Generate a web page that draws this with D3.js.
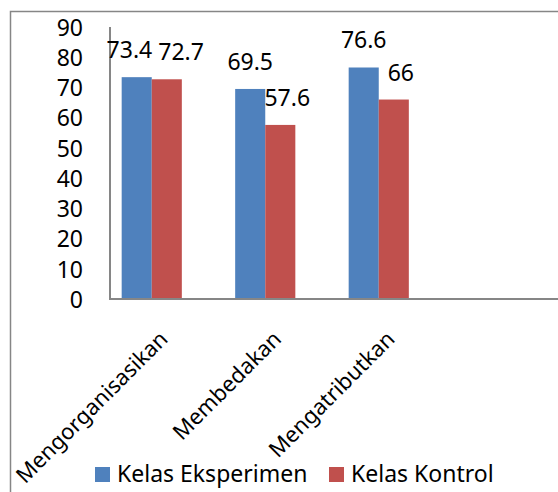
<!DOCTYPE html>
<html>
<head>
<meta charset="utf-8">
<script src="https://cdn.jsdelivr.net/npm/d3@7"></script>
<style>
  html, body { margin: 0; padding: 0; background: #fff; }
  svg { display: block; font-family: "Noto Sans", "Open Sans", sans-serif; }
</style>
</head>
<body>
<svg id="chart" width="558" height="492"></svg>
<script>
const categories = ["Mengorganisasikan", "Membedakan", "Mengatributkan"];
const seriesNames = ["Kelas Eksperimen", "Kelas Kontrol"];
const eksperimen = [73.4, 69.5, 76.6];
const kontrol = [72.7, 57.6, 66];
const yTicks = [0, 10, 20, 30, 40, 50, 60, 70, 80, 90];
const colors = ["#4F81BD", "#C0504D"];

const svg = d3.select("#chart");
const W = 558, H = 492;
const fontSize = 23;
const catFontSize = 22;
const axisColor = "#868686";

// outer frame
svg.append("path")
  .attr("d", `M10.5,${H + 5} V11.5 H${W + 5}`)
  .attr("fill", "none").attr("stroke", axisColor).attr("stroke-width", 1.5);

const plotLeft = 110, plotBottom = 299, plotTop = 27, plotRight = W;

const y = d3.scaleLinear().domain([0, 90]).range([plotBottom, plotTop]);
const x = d3.scaleBand().domain(categories).range([95, 435.5])
  .paddingInner(0.47).paddingOuter(0.235);
const xs = d3.scaleBand().domain(seriesNames).range([0, x.bandwidth()]);

const series = [eksperimen, kontrol];
const data = [];
categories.forEach((c, i) => {
  seriesNames.forEach((s, j) => data.push({ c, s, j, v: series[j][i] }));
});

// bars
svg.append("g").selectAll("rect").data(data).join("rect")
  .attr("x", d => x(d.c) + xs(d.s))
  .attr("y", d => y(d.v))
  .attr("width", xs.bandwidth())
  .attr("height", d => y(0) - y(d.v))
  .attr("fill", d => colors[d.j]);

// y axis
const yAxis = d3.axisLeft(y).tickValues(yTicks).tickSize(0).tickPadding(27);
const gy = svg.append("g").attr("transform", `translate(${plotLeft},0)`).call(yAxis);
gy.select(".domain").attr("stroke", axisColor).attr("stroke-width", 2)
  .attr("d", `M0,${plotTop}V${plotBottom}`);
gy.selectAll("text").attr("font-size", fontSize).attr("fill", "#000")
  .attr("font-family", "'Noto Sans', sans-serif").attr("dy", "0.36em");

// x axis line
svg.append("line")
  .attr("x1", plotLeft - 1).attr("x2", plotRight)
  .attr("y1", plotBottom).attr("y2", plotBottom)
  .attr("stroke", axisColor).attr("stroke-width", 2);

// category labels
svg.append("g").selectAll("text").data(categories).join("text")
  .attr("transform", d => `translate(${x(d) + x.bandwidth() / 2 + 12},335) rotate(-45)`)
  .attr("text-anchor", "end").attr("dy", "0.35em")
  .attr("font-size", catFontSize).attr("fill", "#000")
  .text(d => d);

// data labels with simple collision avoidance within each group
const labelG = svg.append("g");
const labelShift = [0, 7];
categories.forEach((c, i) => {
  const items = seriesNames.map((s, j) => {
    const v = series[j][i];
    const t = labelG.append("text")
      .attr("font-size", fontSize).attr("fill", "#000")
      .attr("text-anchor", "middle")
      .attr("y", y(v) - 19)
      .text(String(v));
    const w = t.node().getComputedTextLength();
    return { t, cx: x(c) + xs(s) + xs.bandwidth() / 2 + labelShift[j], w, yb: y(v) - 19 };
  });
  const [a, b] = items;
  const overlapX = (a.cx + a.w / 2) - (b.cx - b.w / 2) + 6;
  if (overlapX > 0 && Math.abs(a.yb - b.yb) < fontSize) {
    a.cx -= overlapX / 2;
    b.cx += overlapX / 2;
  }
  items.forEach(it => it.t.attr("x", it.cx));
});

// legend
const legend = svg.append("g").attr("transform", "translate(95,467)");
const legendX = [0, 234];
seriesNames.forEach((s, j) => {
  const g = legend.append("g").attr("transform", `translate(${legendX[j]},0)`);
  g.append("rect").attr("width", 15).attr("height", 15).attr("fill", colors[j]);
  g.append("text").attr("x", 22).attr("y", 14.5)
    .attr("font-size", fontSize).attr("fill", "#000").text(s);
});
</script>
</body>
</html>
